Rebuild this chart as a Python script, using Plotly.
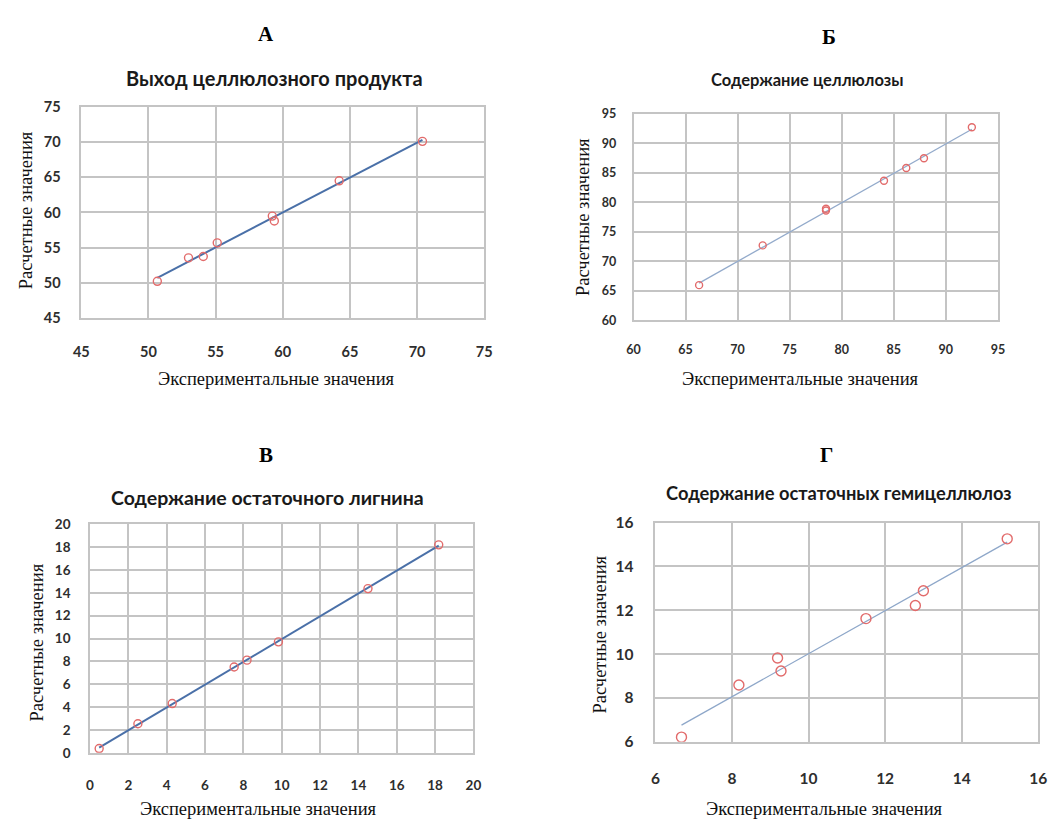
import numpy as np
import plotly.graph_objects as go

# Экспериментальные (x) и расчетные (y) значения по четырём показателям
yield_exp = [50.66, 52.98, 54.08, 55.12, 59.22, 59.37, 64.2, 70.4]
yield_calc = [50.23, 53.56, 53.75, 55.69, 59.49, 58.8, 64.5, 70.1]

cell_exp = [66.3, 72.41, 78.49, 78.49, 84.06, 86.2, 87.9, 92.5]
cell_calc = [65.97, 72.7, 78.9, 78.6, 83.65, 85.8, 87.46, 92.7]

lign_exp = [0.48, 2.5, 4.29, 7.52, 8.19, 9.83, 14.5, 18.19]
lign_calc = [0.37, 2.54, 4.31, 7.51, 8.11, 9.71, 14.37, 18.2]

hemi_exp = [6.68, 8.18, 9.19, 9.28, 11.5, 12.79, 13.0, 15.19]
hemi_calc = [6.21, 8.59, 9.82, 9.23, 11.62, 12.22, 12.89, 15.26]

panel_letters = ["А", "Б", "В", "Г"]
panel_titles = [
    "Выход целлюлозного продукта",
    "Содержание целлюлозы",
    "Содержание остаточного лигнина",
    "Содержание остаточных гемицеллюлоз",
]
x_title = "Экспериментальные значения"
y_title = "Расчетные значения"

W, H = 1061, 828


def px_x(v):
    return v / W


def px_y(v):
    return 1 - v / H


# panel geometry in pixels: plot box (left, right, top, bottom)
panels = [
    dict(x=yield_exp, y=yield_calc, rng=[45, 75], dt=5, box=(74.5, 484, 99, 315),
         line_color="#4a70a8", line_w=2.0, msize=8, tick_size=14.5, tick_gap=(20, 16),
         title_pos=(271, 70), title_size=20, letter_pos=(262, 25),
         xt_pos=(273, 377), yt_pos=(18, 205)),
    dict(x=cell_exp, y=cell_calc, rng=[60, 95], dt=5, box=(635.7, 1006, 106, 317.3),
         line_color="#93aacb", line_w=1.3, msize=7, tick_size=12.5, tick_gap=(17, 13),
         title_pos=(812, 72), title_size=16.5, letter_pos=(834, 28),
         xt_pos=(805, 377), yt_pos=(585, 212)),
    dict(x=lign_exp, y=lign_calc, rng=[0, 20], dt=2, box=(83.3, 473, 525.7, 759.3),
         line_color="#4a70a8", line_w=2.0, msize=8, tick_size=13.5, tick_gap=(19, 15),
         title_pos=(264, 498), title_size=19.5, letter_pos=(262, 455),
         xt_pos=(255, 817), yt_pos=(29, 647)),
    dict(x=hemi_exp, y=hemi_calc, rng=[6, 16], dt=2, box=(658, 1047, 524, 748),
         line_color="#8ea7c9", line_w=1.3, msize=10, tick_size=15.5, tick_gap=(22, 17),
         title_pos=(844, 494), title_size=18.3, letter_pos=(832, 455),
         xt_pos=(830, 817), yt_pos=(602, 638)),
]

fig = go.Figure()
annotations = []
layout_axes = {}

for i, p in enumerate(panels):
    n = "" if i == 0 else str(i + 1)
    xa, ya = "x" + n, "y" + n
    x = np.array(p["x"])
    y = np.array(p["y"])
    # linear trend line over the range of experimental values
    k, b = np.polyfit(x, y, 1)
    xl = np.array([x.min(), x.max()])
    fig.add_trace(go.Scatter(x=xl, y=k * xl + b, mode="lines",
                             line=dict(color=p["line_color"], width=p["line_w"]),
                             xaxis=xa, yaxis=ya, showlegend=False, hoverinfo="skip"))
    fig.add_trace(go.Scatter(x=x, y=y, mode="markers",
                             marker=dict(symbol="circle-open", size=p["msize"],
                                         color="#e26b6b", line=dict(width=1.4)),
                             xaxis=xa, yaxis=ya, showlegend=False))

    l, r, t, bt = p["box"]
    common = dict(showgrid=True, gridcolor="#c4c4c4", gridwidth=1.5,
                  showline=True, linecolor="#c4c4c4", linewidth=1.5, mirror=True,
                  zeroline=False, dtick=p["dt"], tick0=p["rng"][0],
                  ticks="", range=p["rng"],
                  tickfont=dict(family="Lato", size=p["tick_size"], color="#2e2e2e",
                                weight="bold"))
    layout_axes["xaxis" + n] = dict(common, domain=[px_x(l), px_x(r)], anchor=ya,
                                    ticklabelstandoff=p["tick_gap"][0])
    layout_axes["yaxis" + n] = dict(common, domain=[px_y(bt), px_y(t)], anchor=xa,
                                    ticklabelstandoff=p["tick_gap"][1])

    annotations.append(dict(text=panel_letters[i], x=px_x(p["letter_pos"][0]),
                            y=px_y(p["letter_pos"][1]), xref="paper", yref="paper",
                            showarrow=False, xanchor="center", yanchor="middle",
                            font=dict(family="Liberation Serif", size=21, color="#000",
                                      weight="bold")))
    annotations.append(dict(text=panel_titles[i], x=px_x(p["title_pos"][0]),
                            y=px_y(p["title_pos"][1]), xref="paper", yref="paper",
                            showarrow=False, xanchor="center", yanchor="middle",
                            font=dict(family="Lato", size=p["title_size"], color="#1a1a1a",
                                      weight="bold")))
    annotations.append(dict(text=x_title, x=px_x(p["xt_pos"][0]), y=px_y(p["xt_pos"][1]),
                            xref="paper", yref="paper", showarrow=False,
                            xanchor="center", yanchor="middle",
                            font=dict(family="Liberation Serif", size=18.5, color="#111")))
    annotations.append(dict(text=y_title, x=px_x(p["yt_pos"][0]), y=px_y(p["yt_pos"][1]),
                            xref="paper", yref="paper", showarrow=False, textangle=-90,
                            xanchor="center", yanchor="middle",
                            font=dict(family="Liberation Serif", size=18.5, color="#111")))

fig.update_layout(width=W, height=H, margin=dict(l=0, r=0, t=0, b=0),
                  paper_bgcolor="white", plot_bgcolor="white",
                  annotations=annotations, **layout_axes)

fig.write_html("out.html")
